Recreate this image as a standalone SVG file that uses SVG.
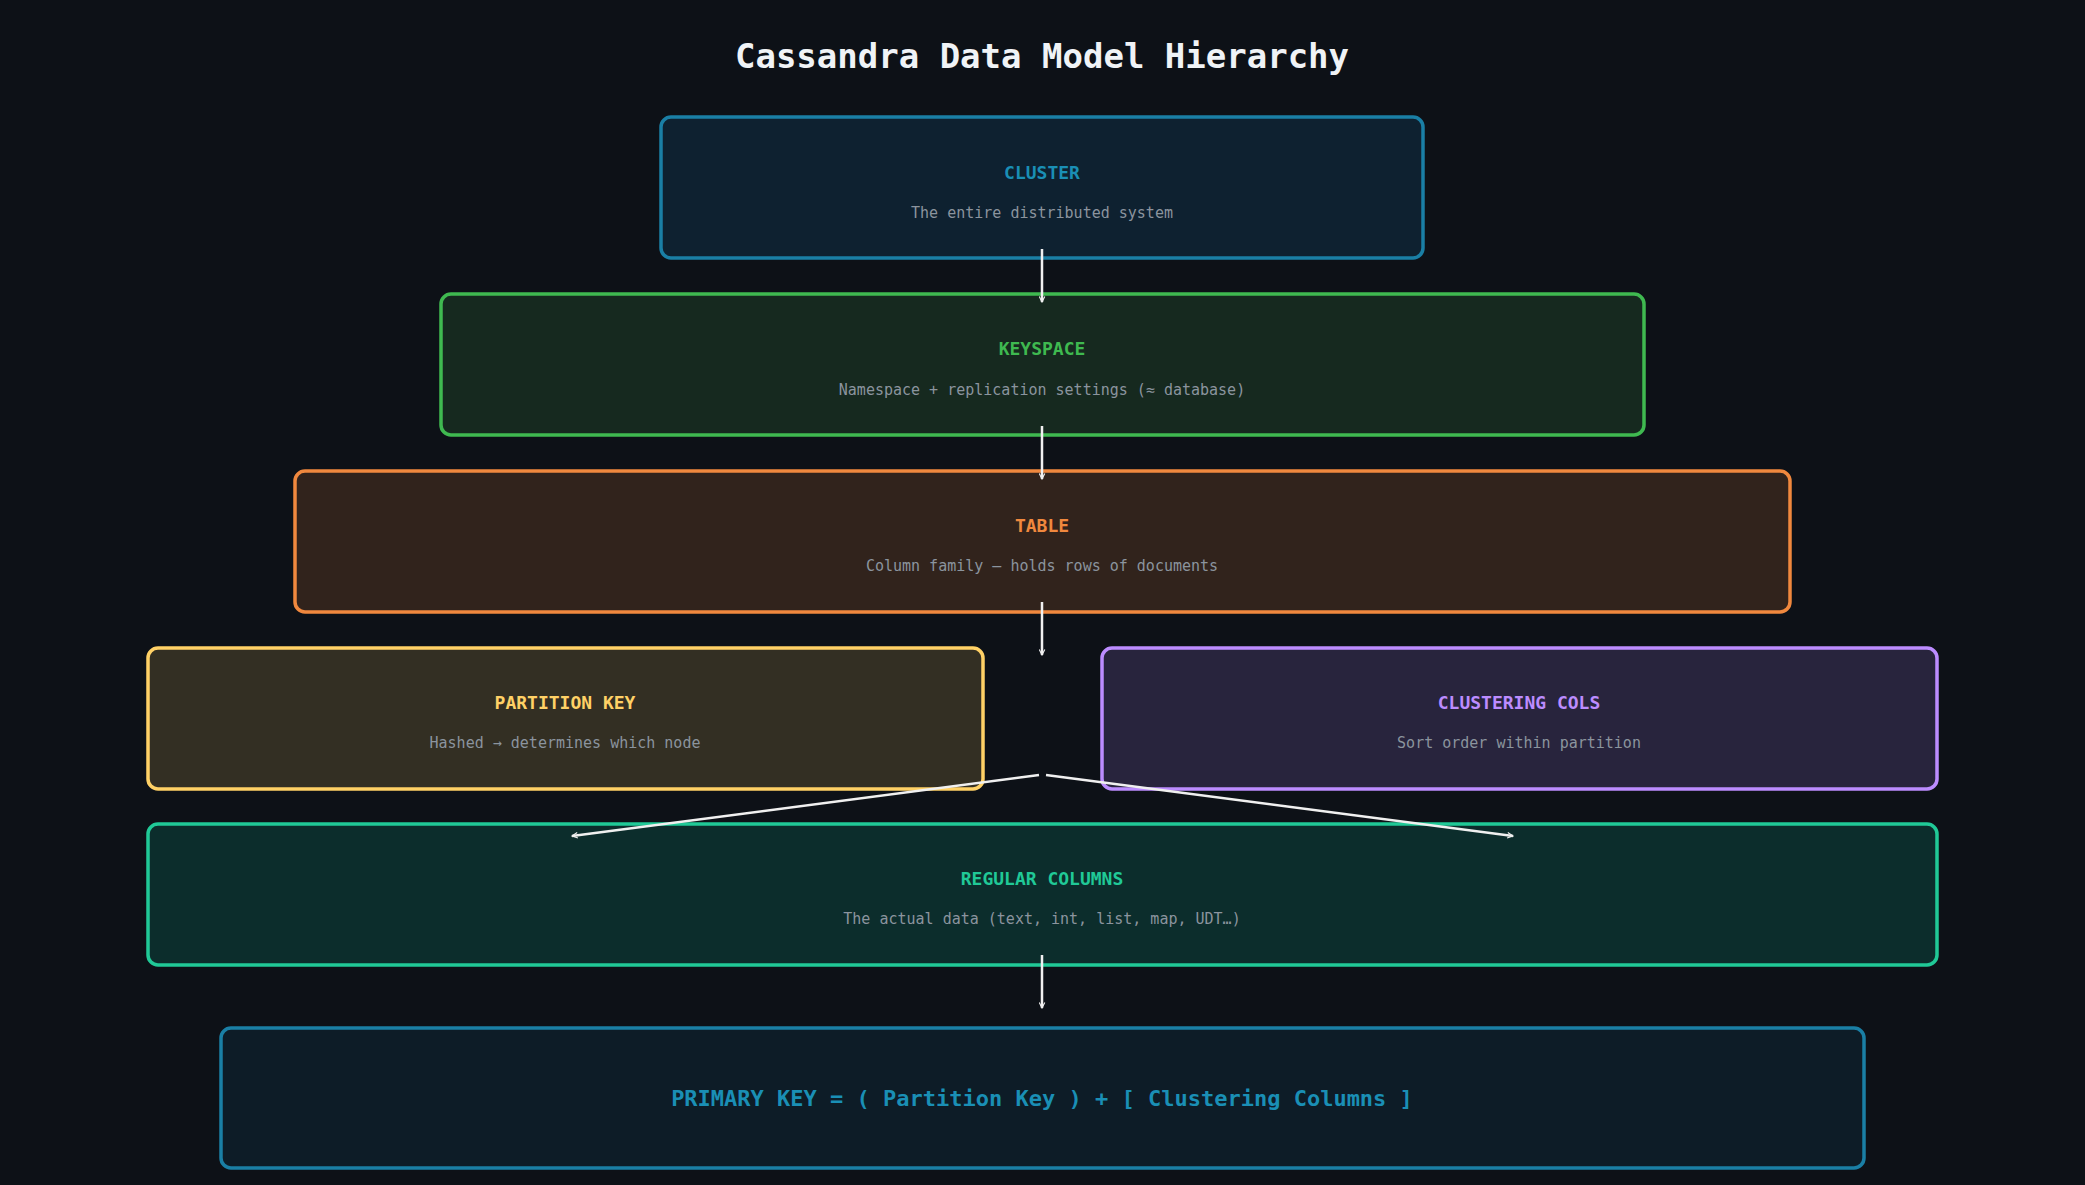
<svg xmlns="http://www.w3.org/2000/svg" width="2085" height="1185" viewBox="0 0 2085 1185">
<defs>
<marker id="ah" viewBox="0 0 10 10" refX="9" refY="5" markerWidth="7" markerHeight="7" orient="auto" markerUnits="userSpaceOnUse"><path d="M1,1 L9,5 L1,9" fill="none" stroke="#f0f0f0" stroke-width="1.6"/></marker>
<style>
text{font-family:"DejaVu Sans Mono","Liberation Mono",monospace;text-anchor:middle}
.t{font-size:18px;font-weight:bold}
.s{font-size:15px;fill:#8b949e}
rect{stroke-width:3.5}
.c line{stroke:#f0f0f0;stroke-width:2.5;marker-end:url(#ah)}
</style>
</defs>
<rect x="0" y="0" width="2085" height="1185" fill="#0d1117" stroke="none"/>
<text x="1042" y="68" style="font-size:34px;font-weight:bold" fill="#f0f3f6">Cassandra Data Model Hierarchy</text>
<g id="cluster"><rect x="661" y="117" width="762" height="141" rx="10" fill="#0e2130" stroke="#1a7fa5"/><text class="t" x="1042" y="179" fill="#1a8fb5">CLUSTER</text><text class="s" x="1042" y="218">The entire distributed system</text></g>
<g id="keyspace"><rect x="441" y="294" width="1203" height="141" rx="10" fill="#16291f" stroke="#3fb950"/><text class="t" x="1042" y="355" fill="#3fb950">KEYSPACE</text><text class="s" x="1042" y="395">Namespace + replication settings  (≈ database)</text></g>
<g id="table"><rect x="295" y="471" width="1495" height="141" rx="10" fill="#31231c" stroke="#f0883e"/><text class="t" x="1042" y="532" fill="#f0883e">TABLE</text><text class="s" x="1042" y="571">Column family — holds rows of documents</text></g>
<g id="partition"><rect x="148" y="648" width="835" height="141" rx="10" fill="#332f23" stroke="#ffd166"/><text class="t" x="565" y="709" fill="#ffd166">PARTITION KEY</text><text class="s" x="565" y="748">Hashed → determines which node</text></g>
<g id="clustering"><rect x="1102" y="648" width="835" height="141" rx="10" fill="#28243d" stroke="#bc8cff"/><text class="t" x="1519" y="709" fill="#bc8cff">CLUSTERING COLS</text><text class="s" x="1519" y="748">Sort order within partition</text></g>
<g id="regular"><rect x="148" y="824" width="1789" height="141" rx="10" fill="#0c2d2c" stroke="#20c997"/><text class="t" x="1042" y="885" fill="#20c997">REGULAR COLUMNS</text><text class="s" x="1042" y="924">The actual data (text, int, list, map, UDT…)</text></g>
<g id="primary"><rect x="221" y="1028" width="1643" height="140" rx="10" fill="#0d1c27" stroke="#1a7fa5"/><text x="1042" y="1106" style="font-size:22px;font-weight:bold" fill="#1a8fb5">PRIMARY KEY = ( Partition Key )  +  [ Clustering Columns ]</text></g>
<g class="c" id="connectors">
<line x1="1042" y1="249" x2="1042" y2="302"/>
<line x1="1042" y1="426" x2="1042" y2="479"/>
<line x1="1042" y1="602" x2="1042" y2="655"/>
<line x1="1039" y1="775" x2="572" y2="836"/>
<line x1="1046" y1="775" x2="1513" y2="836"/>
<line x1="1042" y1="955" x2="1042" y2="1008"/>
</g>
</svg>
